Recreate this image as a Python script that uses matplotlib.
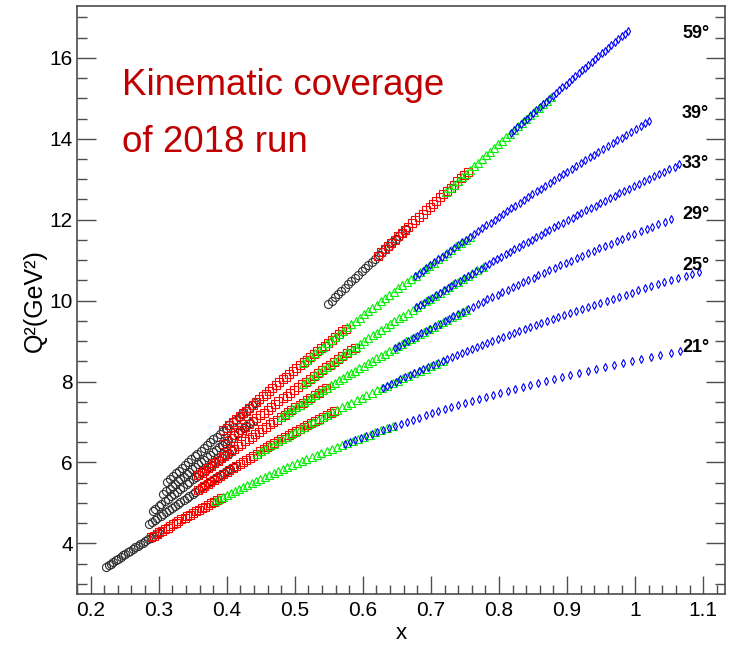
import matplotlib
matplotlib.use('Agg')
import matplotlib.pyplot as plt
from matplotlib.ticker import MultipleLocator, FuncFormatter

plt.rcParams['font.family'] = ['Liberation Sans', 'DejaVu Sans']

# ---------------- data (x, Q^2 in GeV^2) per angle and marker series ----------------
angles = ['59°', '39°', '33°', '29°', '25°', '21°']

# 59 deg
x59_k = [0.549, 0.554, 0.559, 0.563, 0.568, 0.573, 0.578, 0.583, 0.588, 0.593, 0.598, 0.603, 0.608, 0.613, 0.618, 0.623, 0.628, 0.633, 0.638, 0.643, 0.648, 0.653, 0.658, 0.663]
q59_k = [9.92, 10.00, 10.08, 10.16, 10.24, 10.32, 10.40, 10.48, 10.56, 10.64, 10.72, 10.80, 10.88, 10.96, 11.04, 11.12, 11.20, 11.28, 11.36, 11.44, 11.52, 11.60, 11.68, 11.76]
x59_r = [0.622, 0.627, 0.632, 0.637, 0.642, 0.647, 0.652, 0.657, 0.662, 0.667, 0.672, 0.677, 0.683, 0.688, 0.693, 0.698, 0.703, 0.708, 0.713, 0.718, 0.724, 0.729, 0.734, 0.739, 0.744, 0.749, 0.755]
q59_r = [11.11, 11.19, 11.27, 11.35, 11.43, 11.51, 11.59, 11.67, 11.75, 11.83, 11.91, 11.99, 12.07, 12.15, 12.23, 12.31, 12.39, 12.47, 12.55, 12.63, 12.71, 12.79, 12.87, 12.95, 13.03, 13.11, 13.19]
x59_g = [0.722, 0.728, 0.734, 0.740, 0.746, 0.751, 0.757, 0.763, 0.769, 0.775, 0.781, 0.787, 0.793, 0.799, 0.804, 0.810, 0.816, 0.822, 0.828, 0.834, 0.840, 0.846, 0.852, 0.859, 0.865, 0.871, 0.877]
q59_g = [12.69, 12.78, 12.87, 12.96, 13.05, 13.14, 13.23, 13.32, 13.41, 13.50, 13.59, 13.68, 13.77, 13.86, 13.95, 14.04, 14.13, 14.22, 14.31, 14.40, 14.49, 14.58, 14.67, 14.76, 14.85, 14.94, 15.03]
x59_b = [0.818, 0.822, 0.827, 0.832, 0.836, 0.841, 0.846, 0.850, 0.855, 0.860, 0.865, 0.869, 0.874, 0.879, 0.884, 0.888, 0.893, 0.898, 0.903, 0.907, 0.912, 0.917, 0.922, 0.927, 0.931, 0.936, 0.941, 0.946, 0.951, 0.956, 0.960, 0.965, 0.970, 0.975, 0.980, 0.985, 0.990]
q59_b = [14.15, 14.22, 14.29, 14.36, 14.43, 14.50, 14.57, 14.64, 14.71, 14.78, 14.85, 14.92, 14.99, 15.06, 15.13, 15.20, 15.27, 15.34, 15.41, 15.48, 15.55, 15.62, 15.69, 15.76, 15.83, 15.90, 15.97, 16.04, 16.11, 16.18, 16.25, 16.32, 16.39, 16.46, 16.53, 16.60, 16.67]

# 39 deg
x39_k = [0.312, 0.316, 0.321, 0.325, 0.330, 0.334, 0.339, 0.343, 0.348, 0.353, 0.357, 0.362, 0.366, 0.371, 0.376, 0.380, 0.385, 0.390, 0.394, 0.399, 0.404, 0.409, 0.413, 0.418, 0.423, 0.428, 0.433, 0.437, 0.442]
q39_k = [5.52, 5.59, 5.66, 5.73, 5.80, 5.87, 5.94, 6.01, 6.08, 6.15, 6.22, 6.29, 6.36, 6.43, 6.50, 6.57, 6.64, 6.71, 6.78, 6.85, 6.92, 6.99, 7.06, 7.13, 7.20, 7.27, 7.34, 7.41, 7.48]
x39_r = [0.395, 0.400, 0.404, 0.409, 0.414, 0.419, 0.424, 0.428, 0.433, 0.438, 0.443, 0.448, 0.453, 0.458, 0.462, 0.467, 0.472, 0.477, 0.482, 0.487, 0.492, 0.497, 0.502, 0.508, 0.513, 0.518, 0.523, 0.528, 0.533, 0.538, 0.544, 0.549, 0.554, 0.559, 0.565, 0.570, 0.575]
q39_r = [6.79, 6.86, 6.93, 7.00, 7.07, 7.14, 7.21, 7.28, 7.35, 7.42, 7.49, 7.56, 7.63, 7.70, 7.77, 7.84, 7.91, 7.98, 8.05, 8.12, 8.19, 8.26, 8.33, 8.40, 8.47, 8.54, 8.61, 8.68, 8.75, 8.82, 8.89, 8.96, 9.03, 9.10, 9.17, 9.24, 9.31]
x39_g = [0.512, 0.518, 0.524, 0.529, 0.535, 0.541, 0.547, 0.553, 0.559, 0.565, 0.571, 0.577, 0.583, 0.590, 0.596, 0.602, 0.608, 0.614, 0.621, 0.627, 0.633, 0.639, 0.646, 0.652, 0.658, 0.665, 0.671, 0.678, 0.684, 0.691, 0.697, 0.704, 0.711, 0.717, 0.724, 0.730, 0.737, 0.744, 0.751, 0.757]
q39_g = [8.46, 8.54, 8.62, 8.70, 8.78, 8.86, 8.94, 9.02, 9.10, 9.18, 9.26, 9.34, 9.42, 9.50, 9.58, 9.66, 9.74, 9.82, 9.90, 9.98, 10.06, 10.14, 10.22, 10.30, 10.38, 10.46, 10.54, 10.62, 10.70, 10.78, 10.86, 10.94, 11.02, 11.10, 11.18, 11.26, 11.34, 11.42, 11.50, 11.58]
x39_b = [0.676, 0.682, 0.688, 0.693, 0.699, 0.705, 0.711, 0.716, 0.722, 0.728, 0.734, 0.740, 0.746, 0.752, 0.757, 0.763, 0.769, 0.775, 0.781, 0.788, 0.794, 0.800, 0.806, 0.812, 0.818, 0.824, 0.831, 0.837, 0.843, 0.849, 0.856, 0.862, 0.868, 0.875, 0.881, 0.888, 0.894, 0.900, 0.907, 0.913, 0.920, 0.927, 0.933, 0.940, 0.946, 0.953, 0.960, 0.967, 0.973, 0.980, 0.987, 0.994, 1.001, 1.008, 1.014, 1.021]
q39_b = [10.60, 10.67, 10.74, 10.81, 10.88, 10.95, 11.02, 11.09, 11.16, 11.23, 11.30, 11.37, 11.44, 11.51, 11.58, 11.65, 11.72, 11.79, 11.86, 11.93, 12.00, 12.07, 12.14, 12.21, 12.28, 12.35, 12.42, 12.49, 12.56, 12.63, 12.70, 12.77, 12.84, 12.91, 12.98, 13.05, 13.12, 13.19, 13.26, 13.33, 13.40, 13.47, 13.54, 13.61, 13.68, 13.75, 13.82, 13.89, 13.96, 14.03, 14.10, 14.17, 14.24, 14.31, 14.38, 14.45]

# 33 deg
x33_k = [0.307, 0.311, 0.316, 0.320, 0.324, 0.328, 0.332, 0.337, 0.341, 0.345, 0.349, 0.354, 0.358, 0.362, 0.367, 0.371, 0.375, 0.380, 0.384, 0.389, 0.393, 0.398, 0.402, 0.407, 0.411, 0.416, 0.420, 0.425, 0.429, 0.434, 0.439]
q33_k = [5.23, 5.29, 5.35, 5.41, 5.47, 5.53, 5.59, 5.65, 5.71, 5.77, 5.83, 5.89, 5.95, 6.01, 6.07, 6.13, 6.19, 6.25, 6.31, 6.37, 6.43, 6.49, 6.55, 6.61, 6.67, 6.73, 6.79, 6.85, 6.91, 6.97, 7.03]
x33_r = [0.395, 0.401, 0.406, 0.411, 0.416, 0.422, 0.427, 0.432, 0.438, 0.443, 0.449, 0.454, 0.460, 0.465, 0.471, 0.476, 0.482, 0.488, 0.493, 0.499, 0.505, 0.510, 0.516, 0.522, 0.528, 0.534, 0.540, 0.546, 0.552, 0.557, 0.564, 0.570, 0.576, 0.582, 0.588]
q33_r = [6.46, 6.53, 6.60, 6.67, 6.74, 6.81, 6.88, 6.95, 7.02, 7.09, 7.16, 7.23, 7.30, 7.37, 7.44, 7.51, 7.58, 7.65, 7.72, 7.79, 7.86, 7.93, 8.00, 8.07, 8.14, 8.21, 8.28, 8.35, 8.42, 8.49, 8.56, 8.63, 8.70, 8.77, 8.84]
x33_g = [0.512, 0.518, 0.524, 0.530, 0.535, 0.541, 0.547, 0.553, 0.559, 0.565, 0.571, 0.577, 0.584, 0.590, 0.596, 0.602, 0.608, 0.615, 0.621, 0.627, 0.634, 0.640, 0.646, 0.653, 0.659, 0.666, 0.673, 0.679, 0.686, 0.693, 0.699, 0.706, 0.713, 0.720, 0.726, 0.733, 0.740, 0.747, 0.754, 0.761, 0.768, 0.776]
q33_g = [7.95, 8.02, 8.09, 8.16, 8.23, 8.30, 8.37, 8.44, 8.51, 8.58, 8.65, 8.72, 8.79, 8.86, 8.93, 9.00, 9.07, 9.14, 9.21, 9.28, 9.35, 9.42, 9.49, 9.56, 9.63, 9.70, 9.77, 9.84, 9.91, 9.98, 10.05, 10.12, 10.19, 10.26, 10.33, 10.40, 10.47, 10.54, 10.61, 10.68, 10.75, 10.82]
x33_b = [0.678, 0.684, 0.690, 0.695, 0.701, 0.707, 0.713, 0.719, 0.725, 0.730, 0.736, 0.742, 0.748, 0.754, 0.760, 0.766, 0.773, 0.779, 0.785, 0.791, 0.797, 0.803, 0.810, 0.816, 0.822, 0.829, 0.835, 0.842, 0.848, 0.855, 0.861, 0.868, 0.874, 0.881, 0.887, 0.894, 0.901, 0.908, 0.914, 0.921, 0.928, 0.935, 0.942, 0.949, 0.956, 0.963, 0.970, 0.977, 0.984, 0.991, 0.999, 1.006, 1.013, 1.020, 1.028, 1.035, 1.043, 1.050, 1.058, 1.065]
q33_b = [9.83, 9.89, 9.95, 10.01, 10.07, 10.13, 10.19, 10.25, 10.31, 10.37, 10.43, 10.49, 10.55, 10.61, 10.67, 10.73, 10.79, 10.85, 10.91, 10.97, 11.03, 11.09, 11.15, 11.21, 11.27, 11.33, 11.39, 11.45, 11.51, 11.57, 11.63, 11.69, 11.75, 11.81, 11.87, 11.93, 11.99, 12.05, 12.11, 12.17, 12.23, 12.29, 12.35, 12.41, 12.47, 12.53, 12.59, 12.65, 12.71, 12.77, 12.83, 12.89, 12.95, 13.01, 13.07, 13.13, 13.19, 13.25, 13.31, 13.37]

# 29 deg
x29_k = [0.291, 0.295, 0.300, 0.304, 0.309, 0.313, 0.318, 0.322, 0.327, 0.331, 0.336, 0.341, 0.345, 0.350, 0.355, 0.359, 0.364, 0.369, 0.374, 0.379, 0.383, 0.388, 0.393, 0.398, 0.403, 0.408]
q29_k = [4.80, 4.86, 4.92, 4.98, 5.04, 5.10, 5.16, 5.22, 5.28, 5.34, 5.40, 5.46, 5.52, 5.58, 5.64, 5.70, 5.76, 5.82, 5.88, 5.94, 6.00, 6.06, 6.12, 6.18, 6.24, 6.30]
x29_r = [0.358, 0.363, 0.367, 0.372, 0.377, 0.382, 0.387, 0.392, 0.396, 0.401, 0.406, 0.411, 0.416, 0.421, 0.427, 0.432, 0.437, 0.442, 0.447, 0.452, 0.458, 0.463, 0.468, 0.474, 0.479, 0.485, 0.490, 0.495, 0.501, 0.507, 0.512, 0.518, 0.523, 0.529, 0.535, 0.540, 0.546]
q29_r = [5.68, 5.74, 5.80, 5.86, 5.92, 5.98, 6.04, 6.10, 6.16, 6.22, 6.28, 6.34, 6.40, 6.46, 6.52, 6.58, 6.64, 6.70, 6.76, 6.82, 6.88, 6.94, 7.00, 7.06, 7.12, 7.18, 7.24, 7.30, 7.36, 7.42, 7.48, 7.54, 7.60, 7.66, 7.72, 7.78, 7.84]
x29_g = [0.480, 0.485, 0.491, 0.496, 0.502, 0.507, 0.513, 0.519, 0.524, 0.530, 0.536, 0.541, 0.547, 0.553, 0.559, 0.565, 0.571, 0.577, 0.583, 0.589, 0.595, 0.601, 0.607, 0.613, 0.619, 0.626, 0.632, 0.638, 0.645, 0.651, 0.657, 0.664, 0.670, 0.677, 0.684, 0.690, 0.697, 0.704, 0.710, 0.717, 0.724, 0.731, 0.738, 0.745, 0.752]
q29_g = [7.13, 7.19, 7.25, 7.31, 7.37, 7.43, 7.49, 7.55, 7.61, 7.67, 7.73, 7.79, 7.85, 7.91, 7.97, 8.03, 8.09, 8.15, 8.21, 8.27, 8.33, 8.39, 8.45, 8.51, 8.57, 8.63, 8.69, 8.75, 8.81, 8.87, 8.93, 8.99, 9.05, 9.11, 9.17, 9.23, 9.29, 9.35, 9.41, 9.47, 9.53, 9.59, 9.65, 9.71, 9.77]
x29_b = [0.647, 0.653, 0.660, 0.666, 0.673, 0.679, 0.686, 0.693, 0.699, 0.706, 0.713, 0.720, 0.726, 0.733, 0.740, 0.747, 0.754, 0.762, 0.769, 0.776, 0.783, 0.790, 0.798, 0.805, 0.813, 0.820, 0.828, 0.835, 0.843, 0.851, 0.858, 0.866, 0.874, 0.882, 0.890, 0.898, 0.906, 0.914, 0.922, 0.931, 0.939, 0.947, 0.956, 0.964, 0.973, 0.981, 0.990, 0.999, 1.008, 1.017, 1.025, 1.034, 1.044, 1.053]
q29_b = [8.83, 8.89, 8.95, 9.01, 9.07, 9.13, 9.19, 9.25, 9.31, 9.37, 9.43, 9.49, 9.55, 9.61, 9.67, 9.73, 9.79, 9.85, 9.91, 9.97, 10.03, 10.09, 10.15, 10.21, 10.27, 10.33, 10.39, 10.45, 10.51, 10.57, 10.63, 10.69, 10.75, 10.81, 10.87, 10.93, 10.99, 11.05, 11.11, 11.17, 11.23, 11.29, 11.35, 11.41, 11.47, 11.53, 11.59, 11.65, 11.71, 11.77, 11.83, 11.89, 11.95, 12.01]

# 25 deg
x25_k = [0.286, 0.290, 0.294, 0.298, 0.303, 0.307, 0.311, 0.315, 0.319, 0.324, 0.328, 0.332, 0.337, 0.341, 0.345, 0.350, 0.354, 0.359, 0.363, 0.368, 0.373, 0.377, 0.382, 0.386, 0.391, 0.396, 0.401, 0.405, 0.410]
q25_k = [4.48, 4.53, 4.58, 4.63, 4.68, 4.73, 4.78, 4.83, 4.88, 4.93, 4.98, 5.03, 5.08, 5.13, 5.18, 5.23, 5.28, 5.33, 5.38, 5.43, 5.48, 5.53, 5.58, 5.63, 5.68, 5.73, 5.78, 5.83, 5.88]
x25_r = [0.358, 0.363, 0.367, 0.372, 0.376, 0.381, 0.386, 0.390, 0.395, 0.400, 0.404, 0.409, 0.414, 0.419, 0.424, 0.429, 0.434, 0.439, 0.444, 0.449, 0.454, 0.459, 0.464, 0.470, 0.475, 0.480, 0.486, 0.491, 0.496, 0.502, 0.507, 0.513, 0.518, 0.524, 0.530, 0.535, 0.541, 0.547, 0.553, 0.558]
q25_r = [5.32, 5.37, 5.42, 5.47, 5.52, 5.57, 5.62, 5.67, 5.72, 5.77, 5.82, 5.87, 5.92, 5.97, 6.02, 6.07, 6.12, 6.17, 6.22, 6.27, 6.32, 6.37, 6.42, 6.47, 6.52, 6.57, 6.62, 6.67, 6.72, 6.77, 6.82, 6.87, 6.92, 6.97, 7.02, 7.07, 7.12, 7.17, 7.22, 7.27]
x25_g = [0.444, 0.450, 0.456, 0.462, 0.469, 0.475, 0.481, 0.488, 0.494, 0.501, 0.507, 0.514, 0.521, 0.527, 0.534, 0.541, 0.548, 0.555, 0.562, 0.569, 0.576, 0.583, 0.591, 0.598, 0.605, 0.613, 0.621, 0.628, 0.636, 0.644, 0.651, 0.659, 0.667, 0.675, 0.684, 0.692, 0.700, 0.708, 0.717]
q25_g = [6.22, 6.28, 6.34, 6.40, 6.46, 6.52, 6.58, 6.64, 6.70, 6.76, 6.82, 6.88, 6.94, 7.00, 7.06, 7.12, 7.18, 7.24, 7.30, 7.36, 7.42, 7.48, 7.54, 7.60, 7.66, 7.72, 7.78, 7.84, 7.90, 7.96, 8.02, 8.08, 8.14, 8.20, 8.26, 8.32, 8.38, 8.44, 8.50]
x25_b = [0.629, 0.636, 0.642, 0.649, 0.655, 0.662, 0.669, 0.675, 0.682, 0.689, 0.696, 0.703, 0.710, 0.717, 0.724, 0.731, 0.738, 0.746, 0.753, 0.760, 0.768, 0.775, 0.783, 0.790, 0.798, 0.806, 0.814, 0.822, 0.830, 0.838, 0.846, 0.854, 0.862, 0.871, 0.879, 0.887, 0.896, 0.905, 0.913, 0.922, 0.931, 0.940, 0.949, 0.958, 0.967, 0.976, 0.986, 0.995, 1.004, 1.014, 1.024, 1.033, 1.043, 1.053, 1.063, 1.074, 1.084, 1.094]
q25_b = [7.85, 7.90, 7.95, 8.00, 8.05, 8.10, 8.15, 8.20, 8.25, 8.30, 8.35, 8.40, 8.45, 8.50, 8.55, 8.60, 8.65, 8.70, 8.75, 8.80, 8.85, 8.90, 8.95, 9.00, 9.05, 9.10, 9.15, 9.20, 9.25, 9.30, 9.35, 9.40, 9.45, 9.50, 9.55, 9.60, 9.65, 9.70, 9.75, 9.80, 9.85, 9.90, 9.95, 10.00, 10.05, 10.10, 10.15, 10.20, 10.25, 10.30, 10.35, 10.40, 10.45, 10.50, 10.55, 10.60, 10.65, 10.70]

# 21 deg
x21_k = [0.223, 0.227, 0.230, 0.233, 0.237, 0.240, 0.244, 0.247, 0.251, 0.255, 0.258, 0.262, 0.265, 0.269, 0.273, 0.277, 0.280, 0.284, 0.288, 0.292, 0.296, 0.300]
q21_k = [3.42, 3.46, 3.50, 3.54, 3.58, 3.62, 3.66, 3.70, 3.74, 3.78, 3.82, 3.86, 3.90, 3.94, 3.98, 4.02, 4.06, 4.10, 4.14, 4.18, 4.22, 4.26]
x21_r = [0.289, 0.293, 0.297, 0.301, 0.305, 0.309, 0.313, 0.317, 0.321, 0.325, 0.329, 0.333, 0.338, 0.342, 0.346, 0.350, 0.355, 0.359, 0.364, 0.368, 0.372, 0.377, 0.382, 0.386, 0.391]
q21_r = [4.15, 4.19, 4.23, 4.27, 4.31, 4.35, 4.39, 4.43, 4.47, 4.51, 4.55, 4.59, 4.63, 4.67, 4.71, 4.75, 4.79, 4.83, 4.87, 4.91, 4.95, 4.99, 5.03, 5.07, 5.11]
x21_g = [0.383, 0.388, 0.394, 0.400, 0.406, 0.412, 0.418, 0.424, 0.430, 0.437, 0.443, 0.449, 0.456, 0.462, 0.469, 0.476, 0.482, 0.489, 0.496, 0.503, 0.510, 0.517, 0.525, 0.532, 0.539, 0.547, 0.554, 0.562, 0.570, 0.577, 0.585, 0.593, 0.601, 0.610, 0.618, 0.626, 0.635, 0.644]
q21_g = [5.04, 5.09, 5.14, 5.19, 5.24, 5.29, 5.34, 5.39, 5.44, 5.49, 5.54, 5.59, 5.64, 5.69, 5.74, 5.79, 5.84, 5.89, 5.94, 5.99, 6.04, 6.09, 6.14, 6.19, 6.24, 6.29, 6.34, 6.39, 6.44, 6.49, 6.54, 6.59, 6.64, 6.69, 6.74, 6.79, 6.84, 6.89]
x21_b = [0.573, 0.581, 0.589, 0.597, 0.605, 0.613, 0.621, 0.630, 0.638, 0.647, 0.656, 0.665, 0.674, 0.683, 0.692, 0.701, 0.711, 0.720, 0.730, 0.740, 0.750, 0.760, 0.770, 0.781, 0.791, 0.802, 0.813, 0.824, 0.835, 0.846, 0.858, 0.869, 0.881, 0.893, 0.905, 0.918, 0.930, 0.943, 0.956, 0.969, 0.982, 0.996, 1.009, 1.023, 1.037, 1.052, 1.066]
q21_b = [6.46, 6.51, 6.56, 6.61, 6.66, 6.71, 6.76, 6.81, 6.86, 6.91, 6.96, 7.01, 7.06, 7.11, 7.16, 7.21, 7.26, 7.31, 7.36, 7.41, 7.46, 7.51, 7.56, 7.61, 7.66, 7.71, 7.76, 7.81, 7.86, 7.91, 7.96, 8.01, 8.06, 8.11, 8.16, 8.21, 8.26, 8.31, 8.36, 8.41, 8.46, 8.51, 8.56, 8.61, 8.66, 8.71, 8.76]

x_ticks = [0.2, 0.3, 0.4, 0.5, 0.6, 0.7, 0.8, 0.9, 1.0, 1.1]
y_ticks = [4, 6, 8, 10, 12, 14, 16]

series = [
    ('k', x59_k, q59_k), ('r', x59_r, q59_r), ('g', x59_g, q59_g), ('b', x59_b, q59_b),
    ('k', x39_k, q39_k), ('r', x39_r, q39_r), ('g', x39_g, q39_g), ('b', x39_b, q39_b),
    ('k', x33_k, q33_k), ('r', x33_r, q33_r), ('g', x33_g, q33_g), ('b', x33_b, q33_b),
    ('k', x29_k, q29_k), ('r', x29_r, q29_r), ('g', x29_g, q29_g), ('b', x29_b, q29_b),
    ('k', x25_k, q25_k), ('r', x25_r, q25_r), ('g', x25_g, q25_g), ('b', x25_b, q25_b),
    ('k', x21_k, q21_k), ('r', x21_r, q21_r), ('g', x21_g, q21_g), ('b', x21_b, q21_b),
]
label_y = [16.49, 14.51, 13.27, 12.02, 10.76, 8.74]   # baselines of angle labels (Q^2 units)

styles = {'k': dict(marker='o', mec='#303030', ms=5.8),
          'r': dict(marker='s', mec='#ff0000', ms=5.8),
          'g': dict(marker='^', mec='#00ee00', ms=6.0),
          'b': dict(marker='d', mec='#0000ff', ms=3.8)}

# ---------------- figure ----------------
fig = plt.figure(figsize=(7.3, 6.45), dpi=100)
ax = fig.add_axes([77/730, 1-594/645, (725-77)/730, (594-6)/645])

for c, xs, qs in series:
    ax.plot(xs, qs, linestyle='none', mfc='none', mew=0.8, **styles[c])

ax.set_xlim(0.18, 1.132)
ax.set_ylim(2.747, 17.283)
ax.set_xticks(x_ticks)
ax.set_yticks(y_ticks)
ax.xaxis.set_minor_locator(MultipleLocator(0.02))
ax.yaxis.set_minor_locator(MultipleLocator(0.5))
ax.xaxis.set_major_formatter(FuncFormatter(lambda v, p: f"{v:g}"))
for s in ax.spines.values():
    s.set_color('#4d4d4d'); s.set_linewidth(1.2)
ax.tick_params(which='both', direction='in', right=True, top=False, color='#4d4d4d', width=1.0, labelsize=15)
ax.tick_params(axis='x', which='major', length=12.7, pad=5)
ax.tick_params(axis='x', which='minor', length=6.3)
ax.tick_params(axis='y', which='major', length=14, pad=3)
ax.tick_params(axis='y', which='minor', length=7)

for lab, yb in zip(angles, label_y):
    ax.text(1.069, yb, lab, ha='left', va='baseline', fontsize=13, fontweight='bold', clip_on=False)

fig.text(35/730, 1-301/645, 'Q²(GeV²)', rotation=90, ha='center', va='center', fontsize=18)
fig.text(401.7/730, 1-639/645, 'x', ha='center', va='baseline', fontsize=16)
fig.text(122/730, 1-95/645, 'Kinematic coverage', ha='left', va='baseline', fontsize=26.5, color='#c00000')
fig.text(122/730, 1-152/645, 'of 2018 run', ha='left', va='baseline', fontsize=26.5, color='#c00000')

fig.savefig('out.png', dpi=100)
